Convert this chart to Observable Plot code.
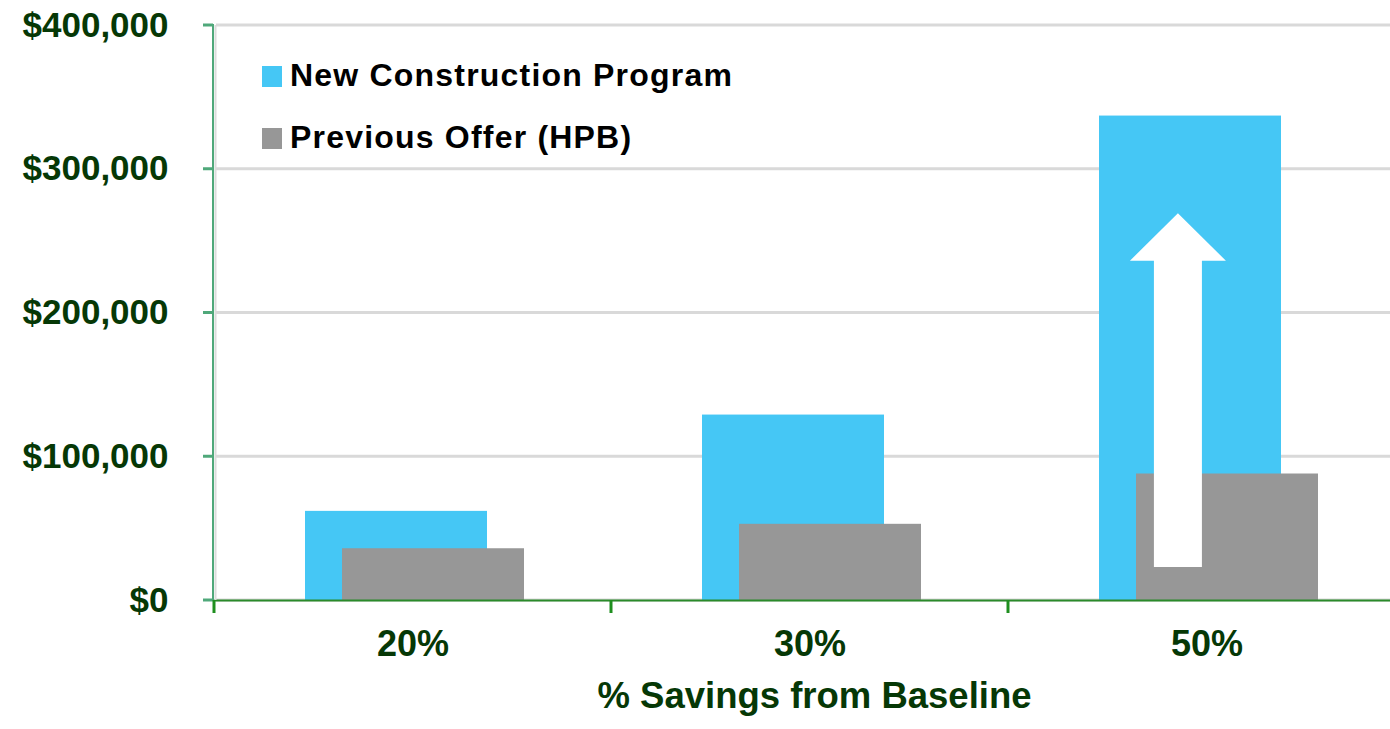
<!DOCTYPE html>
<html>
<head>
<meta charset="utf-8">
<script src="https://cdn.jsdelivr.net/npm/d3@7"></script>
<script src="https://cdn.jsdelivr.net/npm/@observablehq/plot@0.6"></script>
<style>
  html, body { margin: 0; padding: 0; background: white; overflow: hidden; }
  #wrap { position: relative; width: 1390px; height: 729px; font-family: "Liberation Sans", Arial, sans-serif; }
  #legend { position: absolute; left: 262px; top: 44px; }
  .row { display: flex; align-items: center; height: 62px; }
  .sw { width: 20px; height: 21px; margin-right: 8px; margin-top: 3px; }
  .lab { font-size: 32px; font-weight: bold; color: #000; white-space: nowrap; letter-spacing: 1.2px; }
</style>
</head>
<body>
<div id="wrap"><div id="legend"></div></div>
<script>
// ---- data ----
const categories = ["20%", "30%", "50%"];
const newConstruction = [62000, 129000, 337000];
const previousOffer = [36000, 53000, 88000];
const seriesNames = ["New Construction Program", "Previous Offer (HPB)"];
const seriesColors = ["#45c7f5", "#979797"];
const yTicks = [0, 100000, 200000, 300000, 400000];
const xTitle = "% Savings from Baseline";
// annotation arrow (in data units)
const arrowCategory = "50%";
const arrowFrom = 23000;
const arrowHeadBase = 236000;
const arrowTip = 269000;

const rows = categories.flatMap((c, i) => [
  {cat: c, series: seriesNames[0], value: newConstruction[i]},
  {cat: c, series: seriesNames[1], value: previousOffer[i]}
]);

const green = "#4fa87a";
const darkGreen = "#063806";

function axesMark(index, scales, values, dim) {
  const g = d3.create("svg:g");
  const x0 = dim.marginLeft;
  const yb = scales.y(0);
  g.append("line").attr("x1", x0 + 2.5).attr("x2", x0 + 2.5)
    .attr("y1", scales.y(400000)).attr("y2", yb).attr("stroke", "#dcdcdc").attr("stroke-width", 2);
  g.append("line").attr("x1", x0).attr("x2", x0)
    .attr("y1", scales.y(400000) - 1).attr("y2", yb).attr("stroke", green).attr("stroke-width", 2);
  for (const t of yTicks) {
    g.append("line").attr("x1", x0 - 10).attr("x2", x0)
      .attr("y1", scales.y(t)).attr("y2", scales.y(t)).attr("stroke", green).attr("stroke-width", 3);
  }
  for (const c of categories) {
    const xs = scales.x(c);
    g.append("line").attr("x1", xs).attr("x2", xs)
      .attr("y1", yb).attr("y2", yb + 13).attr("stroke", "#1f8f1f").attr("stroke-width", 3);
  }
  return g.node();
}

function arrowMark(index, scales, values, dim) {
  const bw = scales.x.bandwidth ? scales.x.bandwidth() : (dim.width - dim.marginLeft - dim.marginRight) / categories.length;
  const cx = scales.x(arrowCategory) + bw * 0.428;
  const yb = scales.y(arrowFrom), yh = scales.y(arrowHeadBase), yt = scales.y(arrowTip);
  const sw = 24, hw = 48;
  const d = `M${cx - sw},${yb}L${cx - sw},${yh}L${cx - hw},${yh}L${cx},${yt}L${cx + hw},${yh}L${cx + sw},${yh}L${cx + sw},${yb}Z`;
  return d3.create("svg:path").attr("d", d).attr("fill", "white").node();
}

const chart = Plot.plot({
  width: 1390,
  height: 729,
  marginLeft: 213,
  marginRight: -15,
  marginTop: 25,
  marginBottom: 129,
  x: {domain: categories, padding: 0, axis: null},
  y: {domain: [0, 400000], axis: null},
  style: {fontFamily: "'Liberation Sans', Arial, sans-serif", background: "white", overflow: "visible"},
  marks: [
    Plot.ruleY(yTicks, {stroke: "#d9d9d9", strokeWidth: 3, insetLeft: 3, dy: d => d === 0 ? 2 : 0}),
    Plot.barY(rows.filter(d => d.series === seriesNames[0]), {x: "cat", y: "value", fill: seriesColors[0], insetLeft: 91, insetRight: 124}),
    Plot.barY(rows.filter(d => d.series === seriesNames[1]), {x: "cat", y: "value", fill: seriesColors[1], insetLeft: 128, insetRight: 87}),
    arrowMark,
    Plot.ruleY([0], {stroke: "#2a8a2a", strokeWidth: 2}),
    axesMark,
    Plot.text(yTicks, {y: d => d, frameAnchor: "left", dx: -45, textAnchor: "end", text: d => d3.format("$,")(d),
      fill: darkGreen, fontSize: 35, fontWeight: "bold"}),
    Plot.text(categories, {x: d => d, frameAnchor: "bottom", dy: 55, text: d => d, fill: darkGreen, fontSize: 36, fontWeight: "bold"}),
    Plot.text([xTitle], {frameAnchor: "bottom", dy: 107, dx: 5, text: d => d, fill: darkGreen, fontSize: 36.5, fontWeight: "bold"})
  ]
});

const wrap = document.getElementById("wrap");
wrap.insertBefore(chart, wrap.firstChild);
const legend = document.getElementById("legend");
seriesNames.forEach((n, i) => {
  const r = document.createElement("div"); r.className = "row";
  const s = document.createElement("div"); s.className = "sw"; s.style.background = seriesColors[i];
  const t = document.createElement("div"); t.className = "lab"; t.textContent = n;
  r.appendChild(s); r.appendChild(t); legend.appendChild(r);
});
</script>
</body>
</html>
